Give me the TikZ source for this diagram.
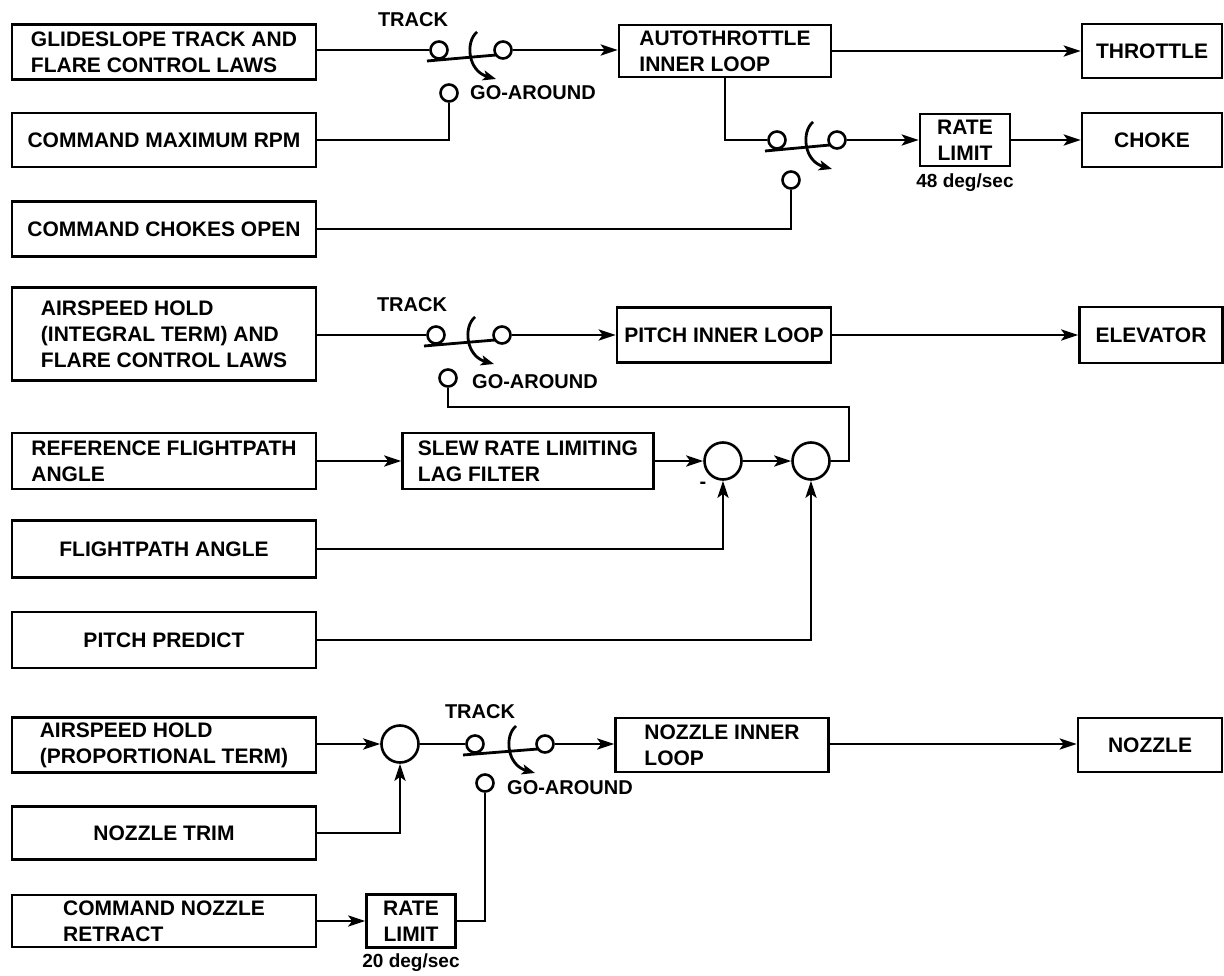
\documentclass[tikz,border=0pt]{standalone}
\usepackage{fontspec}
\setmainfont{Liberation Sans}
\usetikzlibrary{arrows.meta,calc}
\newcommand\drawswitch[2]{%
  \draw[wire] ($(#1)+(-12,11)$) -- ($(#2)+(-7,5)$);
  \draw[wire,-{Stealth[length=13pt,width=10pt,inset=3pt]}] ($(#1)!0.5!(#2)+(6,-18)$) .. controls ($(#1)!0.5!(#2)+(-6,-8)$) and ($(#1)!0.5!(#2)+(-3,21)$) .. ($(#1)!0.5!(#2)+(25,29)$);
}
\tikzset{
  wire/.style={line width=2.8pt},
  arr/.style={wire,-{Stealth[length=17pt,width=11pt,inset=4pt]}},
  box/.style={draw,line width=2.6pt,inner sep=0pt,align=left,font=\fontsize{21}{26}\selectfont\bfseries},
  contact/.style={draw,circle,line width=2.6pt,fill=white,minimum size=17pt,inner sep=0pt},
  sumj/.style={draw,circle,line width=2.6pt,minimum size=37pt,inner sep=0pt},
  lbl/.style={font=\fontsize{20}{22}\selectfont\bfseries,inner sep=0pt},
  small/.style={font=\fontsize{19}{21}\selectfont\bfseries,inner sep=0pt},
}
\begin{document}
\begin{tikzpicture}[x=1pt,y=-1pt]
\useasboundingbox (0,0) rectangle (1224,976);
% ---------- group 1 ----------
\node[box,minimum width=304pt,minimum height=55pt] (b1) at (164,52) {GLIDESLOPE TRACK AND\\FLARE CONTROL LAWS};
\node[box,minimum width=304pt,minimum height=54pt] (b2) at (164,140) {COMMAND MAXIMUM RPM};
\node[box,minimum width=304pt,minimum height=55pt] (b3) at (164,229) {COMMAND CHOKES OPEN};
\node[box,minimum width=212pt,minimum height=52pt] (at1) at (725,51) {AUTOTHROTTLE\\INNER LOOP};
\node[box,minimum width=140pt,minimum height=54pt] (thr) at (1152,51) {THROTTLE};
\node[box,align=center,minimum width=90pt,minimum height=52pt] (rl1) at (965,140) {RATE\\LIMIT};
\node[box,minimum width=140pt,minimum height=54pt] (choke) at (1152,140) {CHOKE};
\node[small] (deg1) at (965,183) {48 deg/sec};
\node[contact] (c1a) at (439,50) {};
\node[contact] (c1b) at (503,50) {};
\node[contact] (c1g) at (449,93) {};
\node[contact] (c2a) at (777,140) {};
\node[contact] (c2b) at (837,140) {};
\node[contact] (c2g) at (791,180) {};
\node[lbl] (tr1) at (413,20) {TRACK};
\node[lbl,anchor=west] (ga1) at (470,93) {GO-AROUND};
\draw[wire] (b1.east |- c1a) -- (c1a);
\draw[arr] (c1b) -- (c1b -| at1.west);
\draw[wire] (b2.east) -| (c1g);
\draw[arr] (at1.east) -- (thr.west);
\draw[wire] (at1.south) |- (c2a);
\draw[arr] (c2b) -- (c2b -| rl1.west);
\draw[arr] (rl1.east) -- (choke.west);
\draw[wire] (b3.east) -| (c2g);
\drawswitch{c1a}{c1b}
\drawswitch{c2a}{c2b}
% ---------- group 2 ----------
\node[box,minimum width=304pt,minimum height=93pt] (b4) at (164,334) {AIRSPEED HOLD\\(INTEGRAL TERM) AND\\FLARE CONTROL LAWS};
\node[box,minimum width=304pt,minimum height=56pt] (b5) at (164,461) {REFERENCE FLIGHTPATH\\ANGLE};
\node[box,minimum width=304pt,minimum height=57pt] (b6) at (164,549) {FLIGHTPATH ANGLE};
\node[box,minimum width=304pt,minimum height=56pt] (b7) at (164,640) {PITCH PREDICT};
\node[box,minimum width=214pt,minimum height=55pt] (pil) at (724,335) {PITCH INNER LOOP};
\node[box,minimum width=143pt,minimum height=56pt] (elev) at (1151,335) {ELEVATOR};
\node[box,minimum width=251pt,minimum height=56pt] (slew) at (528,461) {SLEW RATE LIMITING\\LAG FILTER};
\node[sumj] (sum1) at (723,461) {};
\node[sumj] (sum2) at (811,461) {};
\node[lbl] (minus) at (703,485) {-};
\node[contact] (c3a) at (436,335) {};
\node[contact] (c3b) at (502,335) {};
\node[contact] (c3g) at (448,378) {};
\node[lbl] (tr2) at (412,305) {TRACK};
\node[lbl,anchor=west] (ga2) at (472,382) {GO-AROUND};
\coordinate (fb) at (849,407);
\draw[wire] (b4.east |- c3a) -- (c3a);
\draw[arr] (c3b) -- (c3b -| pil.west);
\draw[arr] (pil.east) -- (elev.west);
\draw[arr] (b5.east) -- (slew.west);
\draw[arr] (slew.east) -- (sum1.west);
\draw[arr] (sum1.east) -- (sum2.west);
\draw[wire] (sum2.east) -| (fb) -| (c3g);
\draw[arr] (b6.east) -| (sum1);
\draw[arr] (b7.east) -| (sum2);
\drawswitch{c3a}{c3b}
% ---------- group 3 ----------
\node[box,minimum width=304pt,minimum height=55pt] (b8) at (164,745) {AIRSPEED HOLD\\(PROPORTIONAL TERM)};
\node[box,minimum width=304pt,minimum height=53pt] (b9) at (164,833) {NOZZLE TRIM};
\node[box,minimum width=304pt,minimum height=52pt] (b10) at (164,921) {COMMAND NOZZLE\\RETRACT};
\node[box,align=center,minimum width=89pt,minimum height=53pt] (rl2) at (411,921) {RATE\\LIMIT};
\node[small] (deg2) at (411,963) {20 deg/sec};
\node[box,minimum width=213pt,minimum height=54pt] (nil) at (722,745) {NOZZLE INNER\\LOOP};
\node[box,minimum width=144pt,minimum height=54pt] (noz) at (1150,745) {NOZZLE};
\node[sumj] (sum3) at (400,744) {};
\node[contact] (c4a) at (475,744) {};
\node[contact] (c4b) at (545,744) {};
\node[contact] (c4g) at (485,783) {};
\node[lbl] (tr3) at (480,712) {TRACK};
\node[lbl,anchor=west] (ga3) at (507,788) {GO-AROUND};
\draw[arr] (b8.east |- sum3) -- (sum3.west);
\draw[arr] (b9.east) -| (sum3);
\draw[wire] (sum3.east) -- (c4a);
\draw[arr] (c4b) -- (c4b -| nil.west);
\draw[arr] (nil.east |- c4b) -- (c4b -| noz.west);
\draw[arr] (b10.east) -- (rl2.west);
\draw[wire] (rl2.east) -| (c4g);
\drawswitch{c4a}{c4b}
\end{tikzpicture}
\end{document}
